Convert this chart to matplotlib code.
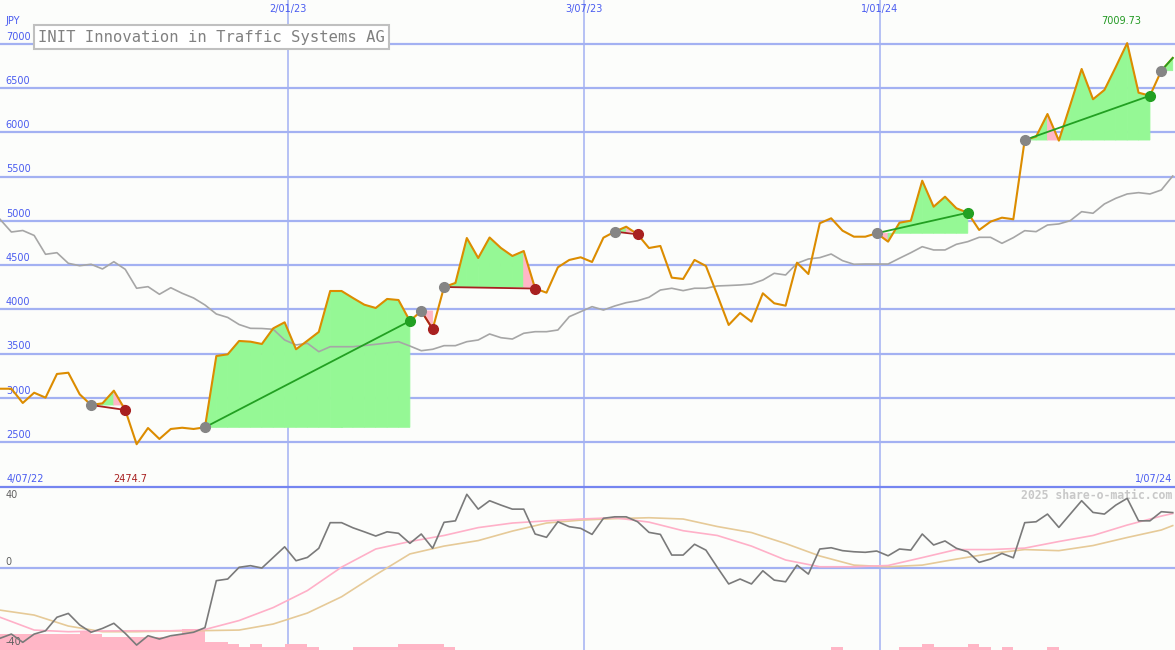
import numpy as np
import pandas as pd
import matplotlib
matplotlib.use("Agg")
import matplotlib.pyplot as plt
from matplotlib import transforms
from matplotlib.lines import Line2D

# Weekly closing prices (JPY)
close = [3102, 3102, 2941, 3057, 3001, 3269, 3283, 3039, 2918, 2937,
         3080, 2862, 2474.7, 2658, 2534, 2647, 2661, 2647, 2666, 3472,
         3491, 3642, 3634, 3608, 3785, 3853, 3548, 3645, 3744, 4207,
         4207, 4128, 4052, 4015, 4117, 4105, 3868, 3981, 3777, 4252,
         4298, 4806, 4580, 4812, 4693, 4603, 4659, 4235, 4188, 4475,
         4558, 4588, 4535, 4810, 4878, 4934, 4848, 4693, 4716, 4358,
         4343, 4558, 4490, 4162, 3823, 3958, 3860, 4181, 4068, 4041,
         4527, 4399, 4973, 5029, 4889, 4821, 4821, 4860, 4765, 4979,
         5002, 5454, 5160, 5273, 5142, 5092, 4897, 4991, 5036, 5018,
         5914, 5952, 6208, 5907, 6310, 6717, 6375, 6480, 6740, 7009.73,
         6449, 6415, 6698, 6842]

# moving average (gray line)
avg = [5018, 4874, 4891, 4835, 4622, 4640, 4520, 4493, 4509, 4456,
       4538, 4452, 4238, 4256, 4170, 4244, 4181, 4128, 4049, 3947,
       3908, 3828, 3785, 3783, 3774, 3653, 3597, 3616, 3521, 3577,
       3577, 3577, 3591, 3604, 3619, 3634, 3585, 3532, 3548, 3589,
       3589, 3634, 3653, 3721, 3679, 3664, 3729, 3747, 3747, 3766,
       3917, 3973, 4030, 3992, 4038, 4075, 4097, 4136, 4218, 4238,
       4211, 4238, 4238, 4264, 4269, 4275, 4286, 4331, 4407, 4388,
       4520, 4569, 4584, 4625, 4550, 4509, 4512, 4512, 4512, 4577,
       4640, 4708, 4671, 4671, 4735, 4765, 4814, 4814, 4746, 4810,
       4889, 4878, 4953, 4965, 5002, 5104, 5086, 5191, 5255, 5304,
       5319, 5304, 5349, 5507]

# trades: entry week, exit week (last one still open)
entries = [8, 18, 37, 39, 54, 77, 90, 102]
exits = [11, 36, 38, 47, 56, 85, 101, 103]

# lower panel: oscillator and its two averages
osc = [-38.4, -36.1, -40.6, -36.1, -34.3, -26.9, -24.8, -31.1, -35.1, -33.0,
       -30.2, -35.7, -42.1, -37.0, -38.8, -37.0, -36.1, -35.1, -32.6, -6.9,
       -6.0, 0.4, 1.3, 0.0, 5.8, 11.6, 4.0, 5.8, 10.8, 24.8,
       24.8, 22.0, 19.8, 17.5, 19.8, 19.0, 13.5, 18.6, 10.8, 25.0,
       25.8, 40.3, 32.2, 36.8, 34.4, 32.2, 32.2, 18.6, 16.8, 25.3,
       22.6, 21.7, 18.4, 27.2, 28.0, 28.0, 25.3, 19.5, 18.4, 7.1,
       7.1, 13.0, 9.8, 0.4, -8.7, -6.0, -8.7, -1.5, -6.6, -7.5,
       1.6, -3.3, 10.4, 11.1, 9.5, 8.9, 8.6, 9.3, 6.7, 10.4,
       9.8, 18.6, 12.6, 14.8, 10.8, 8.9, 3.1, 4.9, 8.0, 5.6,
       24.8, 25.3, 29.5, 22.2, 29.5, 36.8, 30.4, 29.5, 34.4, 38.1,
       25.8, 25.8, 30.8, 30.3]
sm_weeks = list(range(0, 103, 3)) + [103]
osc_fast = [-26.9, -33.9, -34.8, -34.4, -34.3, -34.3, -33.6, -28.7, -21.6, -12.3,
            0.5, 10.4, 14.5, 17.8, 22.1, 24.6, 25.8, 26.8, 27.5, 25.1,
            20.4, 17.8, 12.0, 4.4, 0.7, 0.7, 1.4, 5.7, 10.1, 10.1,
            10.9, 14.5, 17.8, 23.5, 28.4, 29.8]
osc_slow = [-23.0, -25.7, -31.7, -34.8, -34.8, -34.4, -34.2, -33.9, -30.6, -24.6,
            -15.7, -3.7, 7.7, 12.0, 15.0, 20.2, 24.6, 26.2, 27.0, 27.5,
            26.8, 22.7, 19.4, 13.4, 6.6, 1.6, 0.7, 1.6, 4.9, 7.9,
            10.1, 9.5, 12.3, 16.7, 20.8, 23.2]
bars = [8.6, 8.6, 8.6, 8.6, 8.6, 8.6, 8.6, 10, 8.6, 6.9,
        6.9, 6.9, 6.9, 6.9, 6.9, 8.2, 11.5, 11.5, 4.2, 4.2,
        3.1, 1.8, 3.1, 1.8, 1.8, 3.4, 3.4, 1.8, 0, 0,
        0, 1.8, 1.8, 1.8, 1.8, 3.3, 3.3, 3.3, 3.3, 1.8,
        0, 0, 0, 0, 0, 0, 0, 0, 0, 0,
        0, 0, 0, 0, 0, 0, 0, 0, 0, 0,
        0, 0, 0, 0, 0, 0, 0, 0, 0, 0,
        0, 0, 0, 1.8, 0, 0, 0, 0, 0, 1.8,
        1.8, 3.3, 1.8, 1.8, 1.8, 3.3, 1.8, 0, 1.8, 0,
        0, 0, 1.8, 0, 0, 0, 0, 0, 0, 0,
        0, 0, 0, 0]

price_levels = [2500, 3000, 3500, 4000, 4500, 5000, 5500, 6000, 6500, 7000]
first_day = pd.Timestamp("2022-07-09")
grid_dates = [pd.Timestamp(d) for d in ["2023-01-02", "2023-07-03", "2024-01-01"]]
start_label = "4/07/22"
end_label = "1/07/24"
title = "INIT Innovation in Traffic Systems AG"

BG = "#FCFDFB"
GRID = "#A3B1F2"
BLUE_TXT = "#4a5cf0"
ORANGE = "#DC8C00"
LGREEN = "#95F895"
PINK = "#FFB6C6"

weeks = np.arange(len(close))
grid_pos = [(d - first_day).days / 7 for d in grid_dates]
xmax = 103.2

fig = plt.figure(figsize=(11.75, 6.5), dpi=100)
fig.patch.set_facecolor(BG)
ax = fig.add_axes([0, 163 / 650, 1, 487 / 650])
ax2 = fig.add_axes([0, 0, 1, 163 / 650])
for a in (ax, ax2):
    a.set_axis_off()
    a.set_xlim(0, xmax)
ax.set_ylim(1991, 7497)
ax2.set_ylim(-44.8, 44.3)

tr = transforms.blended_transform_factory(ax.transAxes, ax.transData)
trx = transforms.blended_transform_factory(ax.transData, ax.transAxes)
tr2 = transforms.blended_transform_factory(ax2.transAxes, ax2.transData)

# grid
for p in price_levels:
    ax.axhline(p, color=GRID, lw=1.6, zorder=1)
    ax.text(0.005, p + 25, str(p), transform=tr, color=BLUE_TXT, fontsize=7,
            va="bottom", ha="left")
for pos, d in zip(grid_pos, grid_dates):
    ax.axvline(pos, color=GRID, lw=1.1, zorder=1)
    ax2.axvline(pos, color=GRID, lw=1.1, zorder=1)
    ax.text(pos, 0.981, f"{d.day}/{d.month:02d}/{d.year % 100}", transform=trx,
            color=BLUE_TXT, fontsize=7, ha="center", va="center")
ax.text(0.005, 0.957, "JPY", transform=ax.transAxes, color=BLUE_TXT, fontsize=7,
        va="center")
ax.text(0.006, 0.0164, start_label, transform=ax.transAxes, color=BLUE_TXT,
        fontsize=7, va="center")
ax.text(0.9975, 0.0164, end_label, transform=ax.transAxes, color=BLUE_TXT,
        fontsize=7, va="center", ha="right")

# trade fills, one piece per week, green while above the entry price
for e, x in zip(entries, exits):
    lvl = close[e]
    for i in range(e, x):
        col = LGREEN if close[i + 1] >= lvl else PINK
        ax.fill([i, i, i + 1, i + 1], [lvl, close[i], close[i + 1], lvl],
                fc=col, ec=col, lw=0.6, zorder=2)

ax.plot(weeks, avg, color="#A6A6A6", lw=1.2, zorder=3)
ax.plot(weeks, close, color=ORANGE, lw=1.5, zorder=4)

for n, (e, x) in enumerate(zip(entries, exits)):
    win = close[x] > close[e]
    lc = "#22A022" if win else "#A82020"
    ax.plot([e, x], [close[e], close[x]], color=lc, lw=1.3, zorder=5)
    ax.plot(e, close[e], "o", ms=7, color="#858585", zorder=6)
    if n < len(entries) - 1:
        ax.plot(x, close[x], "o", ms=7, color=lc, zorder=6)

imax = int(np.argmax(close))
imin = int(np.argmin(close))
ax.text(imax - 0.55, 0.9575, str(close[imax]), transform=trx, color="#229922",
        fontsize=7, ha="center", va="center")
ax.text(imin - 0.55, 0.0164, str(close[imin]), transform=trx, color="#A82020",
        fontsize=7, ha="center", va="center")

ax.text(38 / 1175, 0.924, title, transform=ax.transAxes, color="#808080",
        family="DejaVu Sans Mono", fontsize=11.2, va="center", ha="left",
        bbox=dict(boxstyle="square,pad=0.28", fc="white", ec="#C0C0C0", lw=1.5),
        zorder=8)

# lower panel
ax2.bar(weeks, bars, width=1, align="edge", bottom=-44.8, color=PINK, lw=0, zorder=2)
ax2.axhline(0, color=GRID, lw=1.6, zorder=1)
ax2.plot(sm_weeks, osc_slow, color="#E6CA98", lw=1.2, zorder=3)
ax2.plot(sm_weeks, osc_fast, color="#FFB0C8", lw=1.2, zorder=3)
ax2.plot(weeks, osc, color="#7A7A7A", lw=1.2, zorder=4)
ax2.text(0.005, 40, "40", transform=tr2, color="#606060", fontsize=7, va="center")
ax2.text(0.005, 0.8, "0", transform=tr2, color="#606060", fontsize=7, va="bottom")
ax2.text(0.005, -40.4, "-40", transform=tr2, color="#606060", fontsize=7, va="center")
ax2.text(0.998, 39.5, "2025 share-o-matic.com", transform=tr2, color="#C8C8C8",
         family="DejaVu Sans Mono", fontsize=8.3, fontweight="bold",
         ha="right", va="center")

fig.add_artist(Line2D([0, 1], [163 / 650, 163 / 650], transform=fig.transFigure,
                      color="#7585F0", lw=1.6))

fig.savefig("out.png", dpi=100, facecolor=BG)
